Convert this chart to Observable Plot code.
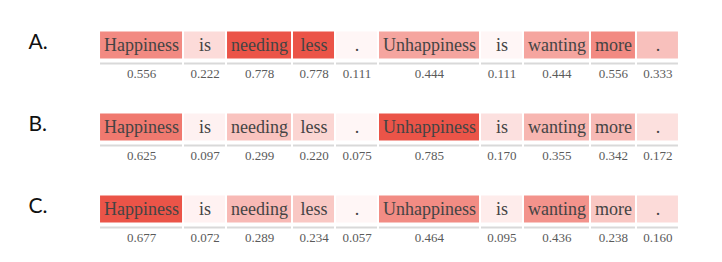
<!DOCTYPE html>
<html>
<head>
<meta charset="utf-8">
<script src="https://cdn.jsdelivr.net/npm/d3@7"></script>
<script src="https://cdn.jsdelivr.net/npm/@observablehq/plot@0.6"></script>
<style>
  html, body { margin: 0; padding: 0; background: #fff; }
</style>
</head>
<body>
<div id="chart"></div>
<script>
const rows = ["A.", "B.", "C."];
const tokens = ["Happiness", "is", "needing", "less", ".", "Unhappiness", "is", "wanting", "more", "."];
const scoresA = [0.556, 0.222, 0.778, 0.778, 0.111, 0.444, 0.111, 0.444, 0.556, 0.333];
const scoresB = [0.625, 0.097, 0.299, 0.220, 0.075, 0.785, 0.170, 0.355, 0.342, 0.172];
const scoresC = [0.677, 0.072, 0.289, 0.234, 0.057, 0.464, 0.095, 0.436, 0.238, 0.160];
const scoreRows = [scoresA, scoresB, scoresC];

const tokenFont = "Liberation Serif";
const canvas = document.createElement("canvas");
const ctx = canvas.getContext("2d");
ctx.font = "18px 'Liberation Serif'";
const minW = 41, pad = 7, gap = 2;

const data = [];
rows.forEach((row, r) => {
  const vals = scoreRows[r];
  const lo = d3.min(vals), hi = d3.max(vals);
  const widths = tokens.map(t => Math.max(minW, ctx.measureText(t).width + pad));
  const total = d3.sum(widths) + gap * (widths.length - 1);
  let cum = -total / 2;
  tokens.forEach((t, i) => {
    data.push({row, token: t, value: vals[i], norm: (vals[i] - lo) / (hi - lo), x1: cum, x2: cum + widths[i]});
    cum += widths[i] + gap;
  });
});

const chart = Plot.plot({
  width: 722,
  height: 262,
  margin: 0,
  x: {domain: [-389, 333], range: [0, 722], axis: null},
  y: {type: "band", domain: rows, range: [4, 250], padding: 0, axis: null},
  color: {type: "linear", domain: [0, 1], range: ["#fff6f6", "#eb5448"]},
  marks: [
    Plot.rect(data, {x1: "x1", x2: "x2", y: "row", fill: "norm", insetTop: 27.5, insetBottom: 27.5}),
    Plot.text(data, {x: d => (d.x1 + d.x2) / 2, y: "row", text: "token", fontFamily: tokenFont, fontSize: 18, fill: "#444"}),
    Plot.ruleY(data, {y: "row", x1: "x1", x2: "x2", dy: 18, stroke: "#d9d9d9", strokeWidth: 2}),
    Plot.text(data, {x: d => (d.x1 + d.x2) / 2, y: "row", text: d => d3.format(".3f")(d.value), dy: 28, fontFamily: tokenFont, fontSize: 13, fill: "#5a5a5a"}),
    Plot.text(rows, {y: d => d, text: d => d, frameAnchor: "left", textAnchor: "start", dx: 28, dy: -3, fontFamily: "Lato", fontSize: 21, fill: "#111"})
  ]
});
document.getElementById("chart").appendChild(chart);
</script>
</body>
</html>
